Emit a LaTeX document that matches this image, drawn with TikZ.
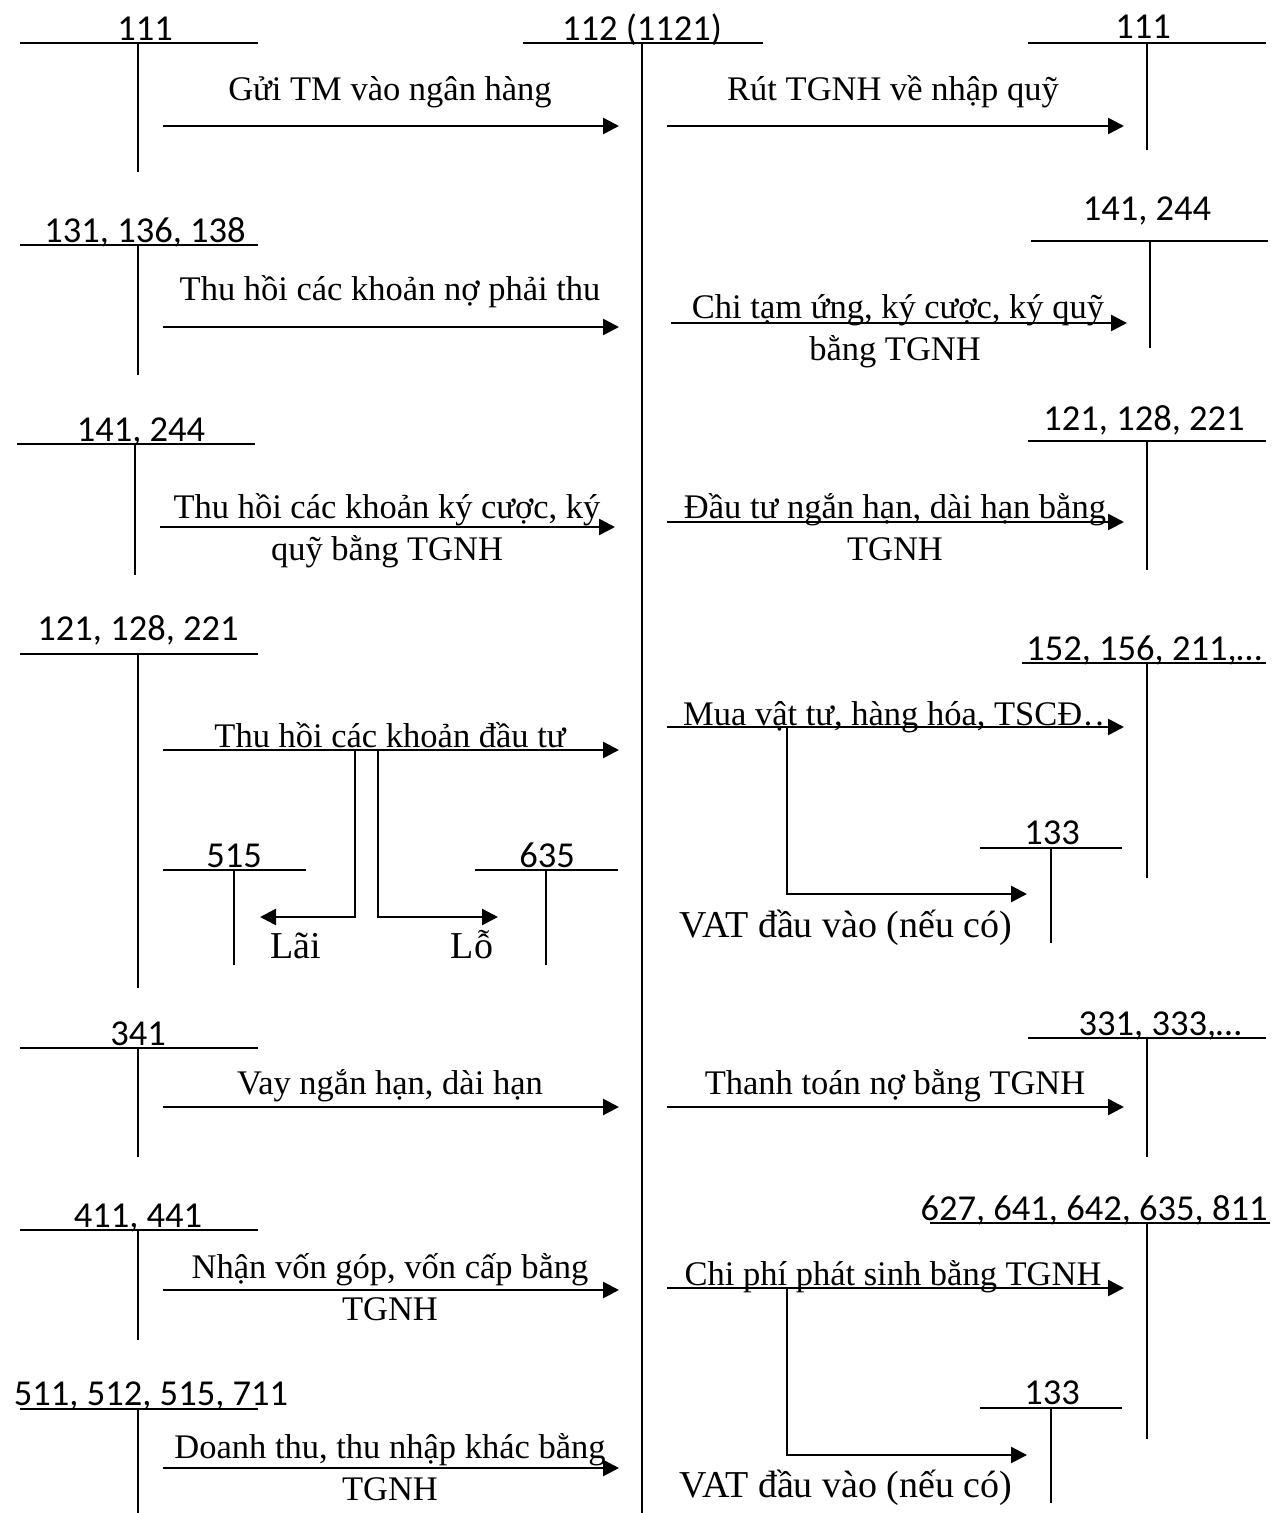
\documentclass[tikz,border=0pt]{standalone}
\usepackage{fontspec}
\setmainfont{Liberation Serif}
\newfontfamily\acctfont{Carlito}
\usetikzlibrary{arrows.meta}
\tikzset{
  acct/.style={font=\acctfont\fontsize{36.5}{40}\selectfont, anchor=base, inner sep=0pt},
  lbl/.style={font=\fontsize{34.5}{40}\selectfont, anchor=base, inner sep=0pt},
  biglbl/.style={font=\fontsize{38}{42}\selectfont, anchor=base, inner sep=0pt},
  tline/.style={line width=1.8pt},
  flow/.style={line width=2.6pt, -{Triangle[length=16pt,width=16pt]}},
}
\begin{document}
\begin{tikzpicture}[x=1pt,y=-1pt]
\useasboundingbox (0,0) rectangle (1274,1513);

% central account 112
\node[acct] (a112) at (642,40) {112 (1121)};
\draw[tline] (523,43) -- (763,43);
\draw[tline] (642,43) -- (642,1513);

% ---------- LEFT SIDE ----------
% 111
\node[acct] (l111) at (145,40) {111};
\draw[tline] (20,43) -- (258,43);
\draw[tline] (138,43) -- (138,172);
\coordinate (ls1) at (163,126); \coordinate (le1) at (619,126);
\draw[flow] (ls1) -- (le1);
\node[lbl] (lt1) at (390,100) {Gửi TM vào ngân hàng};

% 131,136,138
\node[acct] (l131) at (145,242) {131, 136, 138};
\draw[tline] (20,245) -- (258,245);
\draw[tline] (138,245) -- (138,375);
\coordinate (ls2) at (163,327); \coordinate (le2) at (619,327);
\draw[flow] (ls2) -- (le2);
\node[lbl] (lt2) at (390,300) {Thu hồi các khoản nợ phải thu};

% 141,244
\node[acct] (l141) at (141,441) {141, 244};
\draw[tline] (17,444) -- (255,444);
\draw[tline] (135,444) -- (135,575);
\coordinate (ls3) at (160,527); \coordinate (le3) at (615,527);
\draw[flow] (ls3) -- (le3);
\node[lbl] (lt3a) at (387,518) {Thu hồi các khoản ký cược, ký};
\node[lbl] (lt3b) at (387,560) {quỹ bằng TGNH};

% 121,128,221
\node[acct] (l121) at (138,640) {121, 128, 221};
\draw[tline] (20,654) -- (258,654);
\draw[tline] (138,654) -- (138,988);
\coordinate (ls4) at (163,750); \coordinate (le4) at (619,750);
\draw[flow] (ls4) -- (le4);
\node[lbl] (lt4) at (390,747) {Thu hồi các khoản đầu tư};
\coordinate (bl1) at (355,750); \coordinate (bl2) at (260,917);
\coordinate (br1) at (378,750); \coordinate (br2) at (498,917);
\draw[flow] (bl1) |- (bl2);
\draw[flow] (br1) |- (br2);
% 515
\node[acct] (l515) at (234,867) {515};
\draw[tline] (163,870) -- (306,870);
\draw[tline] (234,870) -- (234,965);
% 635
\node[acct] (l635) at (547,867) {635};
\draw[tline] (475,870) -- (618,870);
\draw[tline] (546,870) -- (546,965);
\node[biglbl] (lai) at (296,958) {Lãi};
\node[biglbl] (lo) at (472,958) {Lỗ};

% 341
\node[acct] (l341) at (138,1045) {341};
\draw[tline] (20,1048) -- (258,1048);
\draw[tline] (138,1048) -- (138,1157);
\coordinate (ls5) at (163,1107); \coordinate (le5) at (619,1107);
\draw[flow] (ls5) -- (le5);
\node[lbl] (lt5) at (390,1094) {Vay ngắn hạn, dài hạn};

% 411,441
\node[acct] (l411) at (138,1227) {411, 441};
\draw[tline] (20,1230) -- (258,1230);
\draw[tline] (138,1230) -- (138,1340);
\coordinate (ls6) at (163,1290); \coordinate (le6) at (619,1290);
\draw[flow] (ls6) -- (le6);
\node[lbl] (lt6a) at (390,1278) {Nhận vốn góp, vốn cấp bằng};
\node[lbl] (lt6b) at (390,1320) {TGNH};

% 511,...
\node[acct] (l511) at (151,1405) {511, 512, 515, 711};
\draw[tline] (20,1409) -- (258,1409);
\draw[tline] (138,1409) -- (138,1513);
\coordinate (ls7) at (163,1468); \coordinate (le7) at (619,1468);
\draw[flow] (ls7) -- (le7);
\node[lbl] (lt7a) at (390,1458) {Doanh thu, thu nhập khác bằng};
\node[lbl] (lt7b) at (390,1500) {TGNH};

% ---------- RIGHT SIDE ----------
% 111
\node[acct] (r111) at (1143,38) {111};
\draw[tline] (1028,43) -- (1266,43);
\draw[tline] (1147,43) -- (1147,150);
\coordinate (rs1) at (667,126); \coordinate (re1) at (1124,126);
\draw[flow] (rs1) -- (re1);
\node[lbl] (rt1) at (893,100) {Rút TGNH về nhập quỹ};

% 141,244
\node[acct] (r141) at (1147,220) {141, 244};
\draw[tline] (1031,241) -- (1268,241);
\draw[tline] (1150,241) -- (1150,348);
\coordinate (rs2) at (671,323); \coordinate (re2) at (1127,323);
\draw[flow] (rs2) -- (re2);
\node[lbl] (rt2a) at (898,318) {Chi tạm ứng, ký cược, ký quỹ};
\node[lbl] (rt2b) at (895,360) {bằng TGNH};

% 121,128,221
\node[acct] (r121) at (1144,430) {121, 128, 221};
\draw[tline] (1028,441) -- (1266,441);
\draw[tline] (1147,441) -- (1147,570);
\coordinate (rs3) at (667,522); \coordinate (re3) at (1124,522);
\draw[flow] (rs3) -- (re3);
\node[lbl] (rt3a) at (895,518) {Đầu tư ngắn hạn, dài hạn bằng};
\node[lbl] (rt3b) at (895,560) {TGNH};

% 152,156,211
\node[acct] (r152) at (1144,660) {152, 156, 211,…};
\draw[tline] (1022,663) -- (1266,663);
\draw[tline] (1147,663) -- (1147,878);
\coordinate (rs4) at (667,727); \coordinate (re4) at (1124,727);
\draw[flow] (rs4) -- (re4);
\node[lbl] (rt4) at (900,725) {Mua vật tư, hàng hóa, TSCĐ…};
\coordinate (rb1) at (787,727); \coordinate (rb2) at (1027,894);
\draw[flow] (rb1) |- (rb2);
\node[acct] (r133a) at (1052,844) {133};
\draw[tline] (980,848) -- (1122,848);
\draw[tline] (1051,848) -- (1051,943);
\node[biglbl] (vat1) at (846,937) {VAT đầu vào (nếu có)};

% 331,333
\node[acct] (r331) at (1160,1035) {331, 333,…};
\draw[tline] (1028,1038) -- (1266,1038);
\draw[tline] (1147,1038) -- (1147,1157);
\coordinate (rs5) at (667,1107); \coordinate (re5) at (1124,1107);
\draw[flow] (rs5) -- (re5);
\node[lbl] (rt5) at (895,1094) {Thanh toán nợ bằng TGNH};

% 627,...
\node[acct] (r627) at (1094,1220) {627, 641, 642, 635, 811};
\draw[tline] (930,1223) -- (1270,1223);
\draw[tline] (1147,1223) -- (1147,1439);
\coordinate (rs6) at (667,1288); \coordinate (re6) at (1124,1288);
\draw[flow] (rs6) -- (re6);
\node[lbl] (rt6) at (893,1285) {Chi phí phát sinh bằng TGNH};
\coordinate (rc1) at (787,1288); \coordinate (rc2) at (1027,1455);
\draw[flow] (rc1) |- (rc2);
\node[acct] (r133b) at (1052,1404) {133};
\draw[tline] (980,1408) -- (1122,1408);
\draw[tline] (1051,1408) -- (1051,1503);
\node[biglbl] (vat2) at (846,1497) {VAT đầu vào (nếu có)};
\end{tikzpicture}
\end{document}
